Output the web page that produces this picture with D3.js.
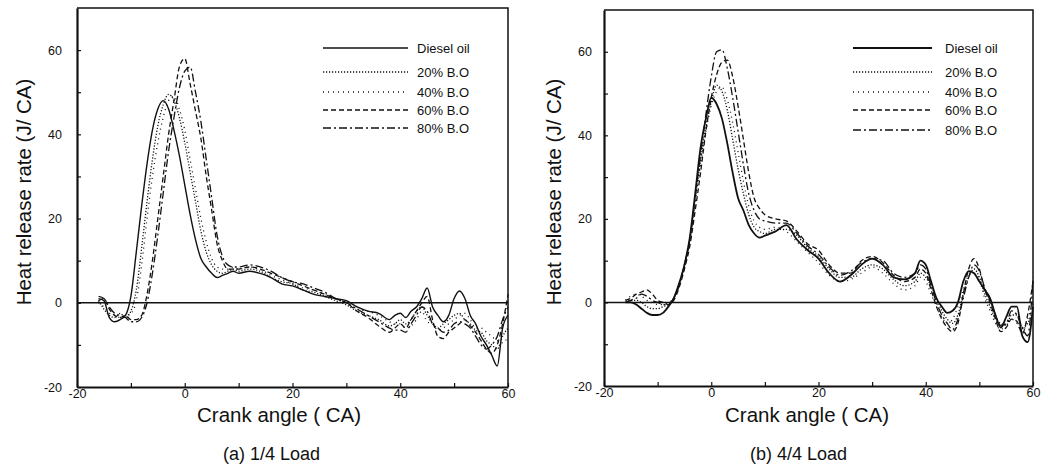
<!DOCTYPE html>
<html>
<head>
<meta charset="utf-8">
<script src="https://cdn.jsdelivr.net/npm/d3@7"></script>
<style>
  body { margin: 0; background: #fff; }
  svg text { font-family: "Liberation Sans", Arial, sans-serif; fill: #111; }
</style>
</head>
<body>
<div id="chart"></div>
<script>
// crank angles shared by every curve
var angles = [-16, -15, -14, -13, -12, -11, -10, -9, -8, -7,
    -6, -5, -4, -3, -2, -1, 0, 1, 2, 3,
    4, 5, 6, 7, 8, 9, 10,
    12, 14, 16, 18, 20, 22, 24, 26, 28, 30, 32, 34, 36, 38,
    39, 40, 41, 42, 43, 44, 45, 46, 47, 48, 49,
    50, 51, 52, 53, 54, 55, 56, 57, 58, 59, 60];

var seriesNames = ["Diesel oil", "20% B.O", "40% B.O", "60% B.O", "80% B.O"];

// (a) 1/4 load
var dieselA = [1, 0.5, -3.5, -4.5, -4, -3, 1.5, 12, 23, 33,
    41, 46, 48, 46, 41, 35, 28, 21, 15, 10.5,
    8.5, 7, 6, 6.5, 7, 7.5, 7,
    7.5, 7, 6, 4.5, 4, 3, 2, 1.5, 1, 0.5, -1, -2, -2.5, -4,
    -3, -2.5, -3.5, -2, -1, 1, 3.5, -1, -3, -4.5, -3,
    1, 2.8, 1, -3, -5, -8, -10, -12.5, -15, -6, -3];
var bo20A = [0.5, -1.5, -3, -3.5, -2.5, -3.5, -2, 3, 13, 24,
    34, 42, 47, 49.5, 48, 44, 38, 31, 24, 17,
    12, 9, 7.5, 7, 7.5, 8, 7.5,
    8, 7.5, 6, 5, 4.5, 3, 2.5, 1.5, 0.5, -0.5, -2, -3, -4, -5.5,
    -5, -4, -5, -4, -2, -1, -3, -5, -6, -5, -4,
    -3, -2.5, -4, -5, -6.5, -7, -9, -10, -11, -8, -6];
var bo40A = [0, -1, -2.5, -3, -3.5, -3, -2.5, 0.5, 9, 20,
    30, 38, 44, 48, 49, 46, 41, 34, 27, 20,
    14.5, 10.5, 8.5, 8, 8, 8.5, 8,
    8.5, 8, 6.5, 5.5, 4.5, 3.5, 3, 2, 1, 0, -1.5, -2, -3, -4.5,
    -5, -5, -6, -5.5, -4, -2, -4.5, -5, -6.5, -6, -5,
    -4, -3, -2.5, -4, -6, -6, -7, -8, -9, -9.5, -8];
var bo60A = [0.5, 1, -1.5, -3, -3.5, -3, -4, -4, -3, 2,
    10, 20, 30, 40, 48, 56, 58, 52, 45.5, 39,
    30, 22, 14, 10, 8, 8, 8,
    8.5, 8, 7, 6, 5, 4, 3, 2, 1, 0, -2, -3.5, -5.5, -7,
    -6, -5, -6, -4, -2, 0, 1.5, -4, -8, -8.5, -7,
    -6, -5, -4, -5.5, -7, -9, -11, -12, -10, -5, 2];
var bo80A = [1.5, 1, -1, -2.5, -3, -3.5, -4.5, -4.5, -3.5, 0,
    7, 16, 26, 36, 44, 51, 55, 56, 50, 43,
    34, 25, 16, 11, 9, 8.5, 8.5,
    9, 8.5, 7.5, 6, 5, 4.5, 3.5, 2.5, 1, 0, -1.5, -3, -4.5, -6,
    -6.5, -6.5, -7, -5, -3, -1, -2, -5, -6, -7, -6.5,
    -5, -4.5, -5, -6, -8, -10, -11, -10, -8, -4, -1];

// (b) 4/4 load
var dieselB = [0, 0, -0.5, -1.5, -2.5, -3, -3, -2.5, -1, 1,
    4.5, 9, 15.5, 26, 37, 44, 49, 47.5, 44, 38,
    31, 25, 22, 18.5, 16.5, 15.5, 16,
    17, 18.5, 15, 12.5, 10.5, 7, 5, 6.5, 9, 10.5, 9, 6, 5.5, 7,
    10, 9, 5, 1, -1, -2.5, -2, 0, 5, 7.5, 7,
    5, 3, 1, -3, -6, -3.5, -1, -1, -8, -9.5, -1];
var bo20B = [0, 0.5, 0.5, 0, -1, -1.5, -1.5, -1, -0.5, 1,
    4.5, 9, 15, 25, 34, 42, 48, 52, 50.5, 46,
    39, 32, 26, 21, 18, 17, 16.5,
    17.5, 17.5, 16, 13, 11, 8, 6, 6, 8, 9, 8, 5.5, 4, 5,
    7, 6, 4, 1, -2, -4, -5, -3, 2, 6, 8,
    6, 2, -1, -4, -5, -5.5, -3, -3, -6, -5, -2];
var bo40B = [0.5, 1.5, 2, 1.5, 0.5, 0, -0.5, -0.5, 0, 1,
    4, 8.5, 14.5, 24, 33, 41, 47, 50.5, 51.5, 48.5,
    43, 36, 29, 23, 19.5, 18, 17.5,
    18, 17, 14.5, 12, 9.5, 6.5, 5, 5.5, 7, 8.5, 7, 4.5, 3, 4,
    6, 5, 2, -1, -3.5, -5, -4, -1, 3, 6.5, 7,
    5.5, 1, -2, -5, -6.5, -5, -4, -5, -7, -4, 0];
var bo60B = [0.5, 1, 2, 2.5, 3, 2, 0.5, 0, -0.5, 0.5,
    3.5, 8, 13.5, 22, 31, 41, 49, 54.5, 57.5, 58,
    54, 47, 39, 31, 25, 22.5, 21,
    20, 19.5, 17, 14, 12.5, 9, 7, 7, 10, 11, 9.5, 6.5, 5, 6,
    8, 7, 3, -1, -4, -6, -7, -5, 2, 8, 10.5,
    8, 3, 0, -4, -7, -6, -4, -4.5, -7.5, -3, 5];
var bo80B = [0, 0.5, 1, 2, 1.5, 0.5, 0, -0.5, -0.5, 1,
    4, 9, 15, 25, 35, 45, 54, 60, 60.5, 56,
    49, 41, 33, 26, 22, 20, 19.5,
    19, 19, 16.5, 13.5, 11.5, 8.5, 6.5, 7.5, 9.5, 10.5, 10, 7, 6, 7,
    9, 8, 4, 0, -3, -5, -6.5, -4, 1, 6, 9,
    7.5, 3.5, 0.5, -3, -5.5, -5, -2, -3, -6, -8, 6];

var dashes = ["none", "1.2,1.8", "1,4", "5,3", "8,3,2,3"];

var svg = d3.select("#chart").append("svg")
    .attr("width", 1054)
    .attr("height", 471);

function drawPanel(p) {
    var x = d3.scaleLinear().domain([-20, 60]).range([p.x0, p.x1]);
    var y = d3.scaleLinear().domain([-20, 70]).range([p.y0, p.y1]);
    var g = svg.append("g");

    // top and right of the frame
    g.append("path")
        .attr("d", `M${p.x0},${p.y1}H${p.x1}V${p.y0}`)
        .attr("fill", "none")
        .attr("stroke", "#111")
        .attr("stroke-width", 1.5);

    // zero line
    g.append("line")
        .attr("x1", x(-20)).attr("x2", x(60))
        .attr("y1", y(0)).attr("y2", y(0))
        .attr("stroke", "#111")
        .attr("stroke-width", 1.5);

    var fmt = d => (d % 20 === 0 ? String(d) : "");

    var yAxis = g.append("g")
        .attr("transform", `translate(${p.x0},0)`)
        .call(d3.axisLeft(y).tickValues(d3.range(-20, 61, 10))
            .tickSizeInner(-4).tickSizeOuter(0).tickPadding(p.pad).tickFormat(fmt));

    var xAxis = g.append("g")
        .attr("transform", `translate(0,${p.y0})`)
        .call(d3.axisBottom(x).tickValues(d3.range(-20, 61, 10))
            .tickSizeInner(-4).tickSizeOuter(0).tickPadding(2).tickFormat(fmt));

    [xAxis, yAxis].forEach(function(a) {
        a.select(".domain").attr("stroke", "#111").attr("stroke-width", 2.2);
        a.selectAll(".tick line").attr("stroke", "#111").attr("stroke-width", 1.2);
        a.selectAll("text")
            .attr("font-family", "Liberation Sans, Arial, sans-serif")
            .attr("font-size", 12.5)
            .attr("fill", "#111");
    });

    var line = d3.line()
        .x((d, i) => x(angles[i]))
        .y(d => y(d))
        .curve(d3.curveMonotoneX);

    p.series.forEach(function(s, i) {
        g.append("path")
            .datum(s)
            .attr("d", line)
            .attr("fill", "none")
            .attr("stroke", "#111")
            .attr("stroke-width", i === 0 ? p.solidW : 1.3)
            .attr("stroke-dasharray", dashes[i]);
    });

    // legend
    seriesNames.forEach(function(name, i) {
        var ly = p.ly[i];
        g.append("line")
            .attr("x1", p.lx0).attr("x2", p.lx1)
            .attr("y1", ly).attr("y2", ly)
            .attr("stroke", "#111")
            .attr("stroke-width", i === 0 ? p.solidW : 1.3)
            .attr("stroke-dasharray", dashes[i]);
        g.append("text")
            .attr("x", p.tx)
            .attr("y", ly + 5)
            .attr("font-size", 13)
            .text(name);
    });

    // titles
    g.append("text")
        .attr("transform", `translate(${p.ytx},${p.yty}) rotate(-90)`)
        .attr("text-anchor", "middle")
        .attr("font-size", 20.5)
        .text("Heat release rate (J/ CA)");

    g.append("text")
        .attr("x", p.xtx)
        .attr("y", 422)
        .attr("font-size", 20.5)
        .text("Crank angle ( CA)");

    g.append("text")
        .attr("x", p.capx)
        .attr("y", 460)
        .attr("font-size", 18)
        .text(p.caption);
}

drawPanel({
    x0: 77, x1: 508, y0: 387, y1: 8, pad: 15, solidW: 1.4,
    series: [dieselA, bo20A, bo40A, bo60A, bo80A],
    lx0: 323, lx1: 408, tx: 417, ly: [48, 72, 92, 110, 128],
    ytx: 31, yty: 192, xtx: 197, capx: 223, caption: "(a) 1/4 Load"
});

drawPanel({
    x0: 604, x1: 1033, y0: 386, y1: 10, pad: 12, solidW: 1.8,
    series: [dieselB, bo20B, bo40B, bo60B, bo80B],
    lx0: 853, lx1: 932, tx: 945, ly: [48, 72, 92, 110, 130],
    ytx: 561, yty: 192, xtx: 725, capx: 750, caption: "(b) 4/4 Load"
});
</script>
</body>
</html>
